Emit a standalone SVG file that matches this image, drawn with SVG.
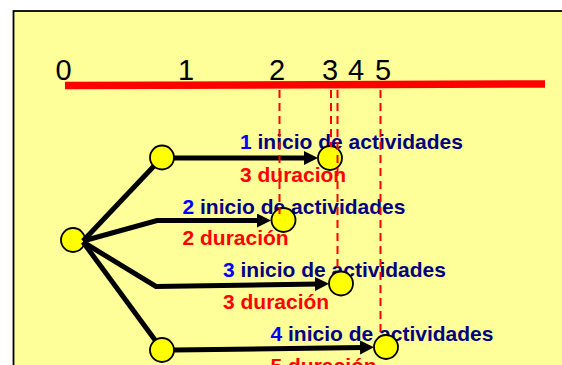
<svg xmlns="http://www.w3.org/2000/svg" width="562" height="365" viewBox="0 0 562 365">
  <defs>
    <style>
      .axis { font-family: "Liberation Sans", Arial, sans-serif; font-size: 29px; fill: #000; text-anchor: middle; }
      .lbl { font-family: "Liberation Sans", Arial, sans-serif; font-size: 21px; font-weight: bold; }
      .ini { fill: #000080; }
      .num { fill: #0000FF; }
      .dur { fill: #FF0000; }
      .link { fill: none; stroke: #000; stroke-width: 5; stroke-linejoin: miter; }
      .guide { fill: none; stroke: #FF0000; stroke-width: 2; stroke-dasharray: 8 5; }
      .node { fill: #FFFF00; stroke: #000; stroke-width: 1.8; }
    </style>
    <marker id="arrow" markerUnits="userSpaceOnUse" markerWidth="15" markerHeight="15" refX="4" refY="7" orient="auto">
      <path d="M0,0 L14,7 L0,14 Z" fill="#000"/>
    </marker>
  </defs>

  <rect x="0" y="0" width="562" height="365" fill="#FFFFFF"/>
  <rect x="13.5" y="11" width="600" height="400" fill="#FFFF99" stroke="#000" stroke-width="1.8"/>

  <g id="timeline">
    <line x1="65" y1="85.5" x2="545" y2="84" stroke="#FF0000" stroke-width="7.5"/>
    <text class="axis" x="63.5" y="80">0</text>
    <text class="axis" x="186" y="80">1</text>
    <text class="axis" x="277" y="80">2</text>
    <text class="axis" x="330" y="80">3</text>
    <text class="axis" x="356" y="80">4</text>
    <text class="axis" x="383" y="80">5</text>
  </g>

  <g id="labels">
    <text class="lbl" x="240" y="149"><tspan class="num">1</tspan><tspan class="ini"> inicio de actividades</tspan></text>
    <text class="lbl dur" x="240" y="182">3 duracion</text>
    <text class="lbl" x="182.5" y="214"><tspan class="num">2</tspan><tspan class="ini"> inicio de actividades</tspan></text>
    <text class="lbl dur" x="182.5" y="245">2 duración</text>
    <text class="lbl" x="223" y="277"><tspan class="num">3</tspan><tspan class="ini"> inicio de actividades</tspan></text>
    <text class="lbl dur" x="223" y="308.5">3 duración</text>
    <text class="lbl" x="270.5" y="341"><tspan class="num">4</tspan><tspan class="ini"> inicio de actividades</tspan></text>
    <text class="lbl dur" x="270.5" y="373">5 duración</text>
  </g>

  <g id="node-start"><circle class="node" cx="73" cy="240" r="12"/></g>
  <g id="node-a1-start"><circle class="node" cx="162" cy="157.5" r="12"/></g>
  <g id="node-a4-start"><circle class="node" cx="162" cy="350" r="12"/></g>
  <g id="node-a1-end"><circle class="node" cx="330" cy="158" r="12"/></g>
  <g id="node-a2-end"><circle class="node" cx="283.5" cy="220" r="12"/></g>
  <g id="node-a3-end"><circle class="node" cx="341" cy="283.5" r="12"/></g>
  <g id="node-a4-end"><circle class="node" cx="386" cy="347" r="12"/></g>

  <g id="connectors">
    <line class="link" x1="83" y1="241" x2="154" y2="166"/>
    <line class="link" x1="174" y1="158" x2="308" y2="158" marker-end="url(#arrow)"/>
    <polyline class="link" points="83,241 157,220.5 261,220.5" marker-end="url(#arrow)"/>
    <polyline class="link" points="83,242 156,286.5 319,284" marker-end="url(#arrow)"/>
    <line class="link" x1="83" y1="242" x2="155" y2="340"/>
    <line class="link" x1="174" y1="350" x2="364" y2="347.5" marker-end="url(#arrow)"/>
  </g>

  <g id="guides">
    <line class="guide" x1="279.5" y1="90" x2="279.5" y2="214"/>
    <line class="guide" x1="331" y1="90" x2="331" y2="147"/>
    <line class="guide" x1="337.5" y1="90" x2="337.5" y2="272"/>
    <line class="guide" x1="380.5" y1="90" x2="380.5" y2="334"/>
  </g>
</svg>
